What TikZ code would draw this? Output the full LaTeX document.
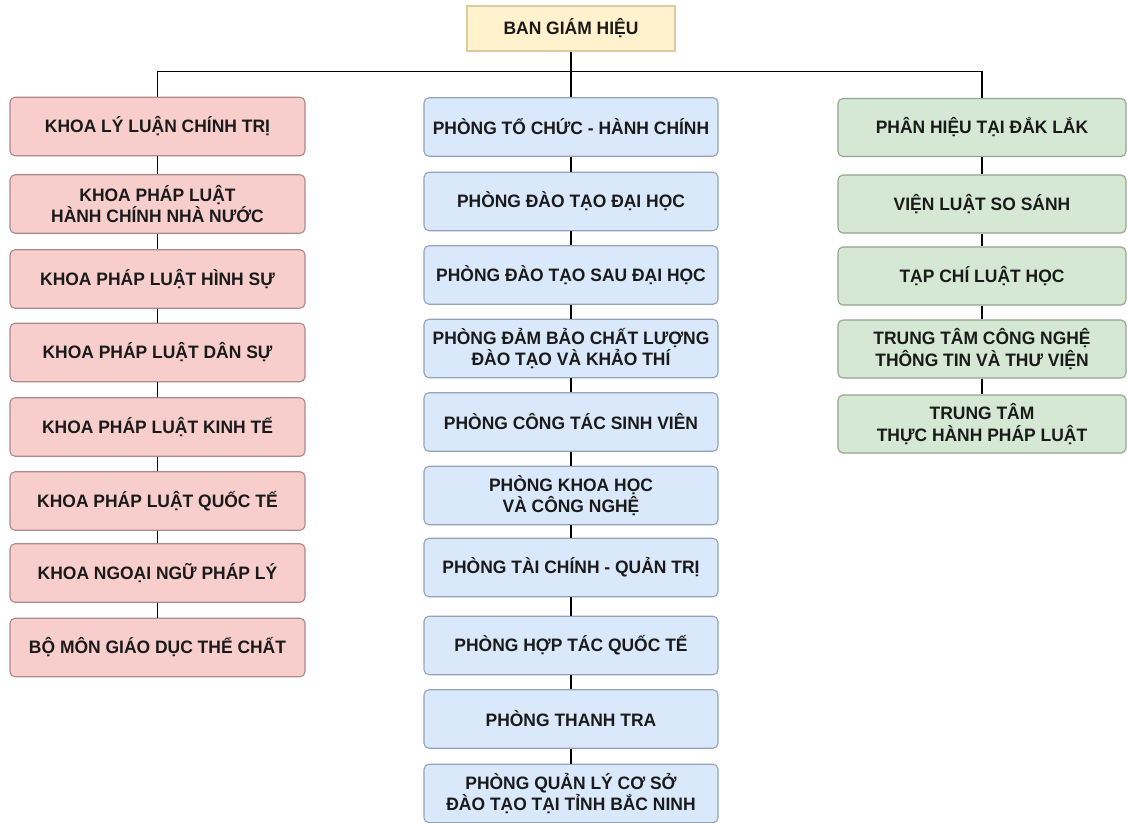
\documentclass[tikz,border=0pt]{standalone}
\usepackage{fontspec}
\setmainfont{Liberation Sans}
\newfontfamily\boxfont[FakeStretch=0.97]{Liberation Sans}
\definecolor{pinkfill}{HTML}{F8CECC}
\definecolor{pinkline}{HTML}{B08888}
\definecolor{bluefill}{HTML}{DAE8FC}
\definecolor{blueline}{HTML}{94A3B8}
\definecolor{greenfill}{HTML}{D5E8D4}
\definecolor{greenline}{HTML}{94A58E}
\definecolor{yellowfill}{HTML}{FFF2CC}
\definecolor{yellowline}{HTML}{DCCB9C}
\definecolor{labeltext}{HTML}{1A1A1A}
\tikzset{
  unit/.style={rounded corners=5pt, line width=1.1pt, align=center,
    inner sep=0pt, text=labeltext,
    font=\boxfont\fontsize{18}{21.5}\selectfont\bfseries},
  faculty/.style={unit, draw=pinkline, fill=pinkfill, minimum width=295pt, minimum height=58.5pt},
  office/.style={unit, draw=blueline, fill=bluefill, minimum width=294pt, minimum height=58.5pt},
  centre/.style={unit, draw=greenline, fill=greenfill, minimum width=288pt, minimum height=58pt},
  board/.style={unit, rounded corners=0pt, draw=yellowline, fill=yellowfill, minimum width=208pt, minimum height=45pt},
  link/.style={draw=black, line width=1.3pt}
}
\begin{document}
\begin{tikzpicture}[x=1pt,y=1pt]
\useasboundingbox (0,0) rectangle (1127,-822);
\fill[white] (0,0) rectangle (1127,-822);

% board of rectors
\node[board] (top) at (571,-28.5) {BAN GIÁM HIỆU};

% faculties
\node[faculty] (l1) at (157.5,-126.5) {KHOA LÝ LUẬN CHÍNH TRỊ};
\node[faculty] (l2) at (157.5,-204) {KHOA PHÁP LUẬT\\HÀNH CHÍNH NHÀ NƯỚC};
\node[faculty] (l3) at (157.5,-279) {KHOA PHÁP LUẬT HÌNH SỰ};
\node[faculty] (l4) at (157.5,-352.5) {KHOA PHÁP LUẬT DÂN SỰ};
\node[faculty] (l5) at (157.5,-427) {KHOA PHÁP LUẬT KINH TẾ};
\node[faculty] (l6) at (157.5,-501) {KHOA PHÁP LUẬT QUỐC TẾ};
\node[faculty] (l7) at (157.5,-573) {KHOA NGOẠI NGỮ PHÁP LÝ};
\node[faculty] (l8) at (157.5,-647.5) {BỘ MÔN GIÁO DỤC THỂ CHẤT};

% offices
\node[office] (m1) at (571,-127) {PHÒNG TỔ CHỨC - HÀNH CHÍNH};
\node[office] (m2) at (571,-201.5) {PHÒNG ĐÀO TẠO ĐẠI HỌC};
\node[office] (m3) at (571,-275) {PHÒNG ĐÀO TẠO SAU ĐẠI HỌC};
\node[office] (m4) at (571,-348.5) {PHÒNG ĐẢM BẢO CHẤT LƯỢNG\\ĐÀO TẠO VÀ KHẢO THÍ};
\node[office] (m5) at (571,-422) {PHÒNG CÔNG TÁC SINH VIÊN};
\node[office] (m6) at (571,-495.5) {PHÒNG KHOA HỌC\\VÀ CÔNG NGHỆ};
\node[office] (m7) at (571,-567.5) {PHÒNG TÀI CHÍNH - QUẢN TRỊ};
\node[office] (m8) at (571,-645.5) {PHÒNG HỢP TÁC QUỐC TẾ};
\node[office] (m9) at (571,-719) {PHÒNG THANH TRA};
\node[office] (m10) at (571,-793.5) {PHÒNG QUẢN LÝ CƠ SỞ\\ĐÀO TẠO TẠI TỈNH BẮC NINH};

% branch, institute and centres
\node[centre] (r1) at (982,-127.5) {PHÂN HIỆU TẠI ĐẮK LẮK};
\node[centre] (r2) at (982,-204) {VIỆN LUẬT SO SÁNH};
\node[centre] (r3) at (982,-276) {TẠP CHÍ LUẬT HỌC};
\node[centre] (r4) at (982,-349) {TRUNG TÂM CÔNG NGHỆ\\THÔNG TIN VÀ THƯ VIỆN};
\node[centre] (r5) at (982,-424) {TRUNG TÂM\\THỰC HÀNH PHÁP LUẬT};

% distribution bus under the board
\coordinate (bus) at (571,-71.5);

\draw[link] (top.south) -- (m1.north);
\draw[link] (l1.north) |- (bus) -| (r1.north);
\foreach \a/\b in {l1/l2,l2/l3,l3/l4,l4/l5,l5/l6,l6/l7,l7/l8,
                   m1/m2,m2/m3,m3/m4,m4/m5,m5/m6,m6/m7,m7/m8,m8/m9,m9/m10,
                   r1/r2,r2/r3,r3/r4,r4/r5}
  \draw[link] (\a.south) -- (\b.north);
\end{tikzpicture}
\end{document}
